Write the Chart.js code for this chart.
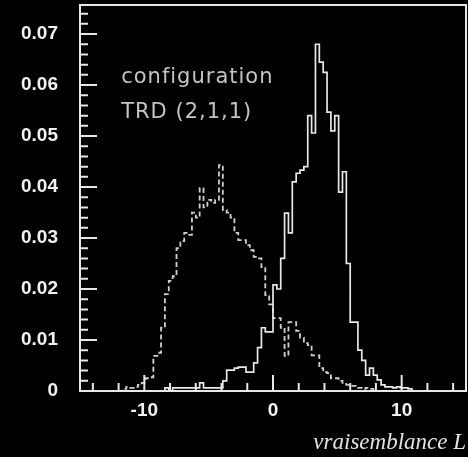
<!DOCTYPE html>
<html>
<head>
<meta charset="utf-8">
<script src="https://cdn.jsdelivr.net/npm/chart.js@4.4.1/dist/chart.umd.min.js"></script>
<style>
  html, body { margin: 0; padding: 0; background: #000; }
  canvas { display: block; }
</style>
</head>
<body>
<canvas id="likelihood" width="468" height="457"></canvas>
<script>
// histogram binning: 80 bins of 0.3 starting at -12
const binLo = -12;
const binWidth = 0.3;

// solid histogram (fraction per bin)
const solidFrac = [
  0, 0, 0, 0, 0, 0, 0, 0, 0, 0,
  0, 0, 0.0006, 0, 0.0006, 0.0006, 0.0006, 0.0006, 0.0006, 0.0006,
  0.0006, 0.0016, 0.0006, 0.0006, 0.0006, 0.0006, 0.0006, 0.002, 0.0041, 0.0041,
  0.0045, 0.0047, 0.0047, 0.0037, 0.0037, 0.0055, 0.0085, 0.0124, 0.0116, 0.0116,
  0.0208, 0.020, 0.026, 0.0349, 0.031, 0.041, 0.0427, 0.0433, 0.044, 0.054,
  0.0506, 0.068, 0.0645, 0.0625, 0.0547, 0.051, 0.054, 0.039, 0.043, 0.025,
  0.0135, 0.0135, 0.008, 0.006, 0.0031, 0.0045, 0.0031, 0.0022, 0.0012, 0.0008,
  0.0008, 0.0006, 0.0008, 0.0006, 0.0006, 0.0004, 0, 0, 0, 0
];

// dashed histogram (fraction per bin)
const dashedFrac = [
  0, 0.0004, 0.0008, 0.0006, 0.0008, 0.0012, 0.0016, 0.0025, 0.0027, 0.0069,
  0.0075, 0.0124, 0.019, 0.0216, 0.0225, 0.028, 0.0294, 0.031, 0.0306, 0.035,
  0.034, 0.0398, 0.036, 0.0375, 0.0369, 0.0375, 0.0443, 0.0355, 0.035, 0.034,
  0.031, 0.0296, 0.0296, 0.0286, 0.0276, 0.0263, 0.026, 0.0243, 0.0188, 0.017,
  0.0143, 0.0143, 0.0124, 0.0069, 0.0135, 0.0135, 0.0118, 0.0104, 0.0094, 0.009,
  0.007, 0.007, 0.0045, 0.0037, 0.0035, 0.0025, 0.0025, 0.002, 0.0016, 0.0012,
  0.001, 0.001, 0.0006, 0.0004, 0.0006, 0.0004, 0, 0, 0, 0
];

const xTickLabels = [-10, 0, 10];
const yTickLabels = [0, 0.01, 0.02, 0.03, 0.04, 0.05, 0.06, 0.07];
const noteLines = ['configuration', 'TRD (2,1,1)'];

// turn bin contents into step points (left edge of each bin + closing edge)
function stepPoints(vals) {
  const pts = vals.map((v, i) => ({ x: binLo + i * binWidth, y: v }));
  pts.push({ x: binLo + vals.length * binWidth, y: 0 });
  return pts;
}

const fg = '#e8e8e8';

// frame with inward ticks, plus the text block
const frameTicks = {
  id: 'frameTicks',
  afterDatasetsDraw(chart) {
    const { ctx, chartArea: a, scales: { x, y } } = chart;
    ctx.save();
    ctx.strokeStyle = fg;
    ctx.lineWidth = 2;
    ctx.strokeRect(a.left, a.top, a.right - a.left, a.bottom - a.top);

    ctx.beginPath();
    for (let i = -7; i <= 7; i++) {
      const px = x.getPixelForValue(2 * i);
      const len = (2 * i) % 10 === 0 ? 16 : 8;
      ctx.moveTo(px, a.bottom);
      ctx.lineTo(px, a.bottom - len);
    }
    for (let j = 0; j <= 37; j++) {
      const py = y.getPixelForValue(j * 0.002);
      const len = j % 5 === 0 ? 17 : 8;
      ctx.moveTo(a.left, py);
      ctx.lineTo(a.left + len, py);
    }
    ctx.stroke();

    ctx.fillStyle = '#c4c4c4';
    ctx.font = '21px "DejaVu Sans"';
    ctx.letterSpacing = '1px';
    ctx.textBaseline = 'alphabetic';
    ctx.textAlign = 'left';
    const tx = x.getPixelForValue(-11.8);
    ctx.fillText(noteLines[0], tx, y.getPixelForValue(0.0604));
    ctx.fillText(noteLines[1], tx, y.getPixelForValue(0.0535));
    ctx.restore();
  }
};

const tickFont = { family: '"Liberation Sans", Arial, sans-serif', size: 19, weight: 'bold' };

new Chart(document.getElementById('likelihood'), {
  type: 'line',
  data: {
    datasets: [{
      label: 'solid',
      data: stepPoints(solidFrac),
      stepped: true,
      borderColor: fg,
      borderWidth: 1.7,
      pointRadius: 0,
      fill: false
    }, {
      label: 'dashed',
      data: stepPoints(dashedFrac),
      stepped: true,
      borderColor: '#cfcfcf',
      borderWidth: 1.8,
      borderDash: [5, 3],
      pointRadius: 0,
      fill: false
    }]
  },
  options: {
    responsive: false,
    animation: false,
    devicePixelRatio: 1,
    layout: { padding: { top: 5, right: 2, left: 0, bottom: 0 } },
    plugins: {
      legend: { display: false },
      tooltip: { enabled: false }
    },
    scales: {
      x: {
        type: 'linear',
        min: -15,
        max: 15,
        grid: { display: false, drawTicks: false },
        border: { display: false },
        afterBuildTicks: s => { s.ticks = xTickLabels.map(v => ({ value: v })); },
        afterFit: s => { s.height = 66; s.paddingLeft = 0; s.paddingRight = 0; },
        ticks: { color: '#f2f2f2', font: tickFont, padding: 8, maxRotation: 0 },
        title: {
          display: true,
          text: 'vraisemblance L',
          align: 'end',
          color: '#e2e2e2',
          font: { family: '"Liberation Serif", "Times New Roman", serif', size: 23, style: 'italic' },
          padding: { top: 0, bottom: 0 }
        }
      },
      y: {
        min: 0,
        max: 0.0757,
        grid: { display: false, drawTicks: false },
        border: { display: false },
        afterBuildTicks: s => { s.ticks = yTickLabels.map(v => ({ value: v })); },
        afterFit: s => { s.width = 80; s.paddingTop = 0; s.paddingBottom = 0; },
        ticks: {
          color: '#f2f2f2',
          font: tickFont,
          padding: 22,
          callback: v => (v === 0 ? '0' : v.toFixed(2))
        }
      }
    }
  },
  plugins: [frameTicks]
});
</script>
</body>
</html>
